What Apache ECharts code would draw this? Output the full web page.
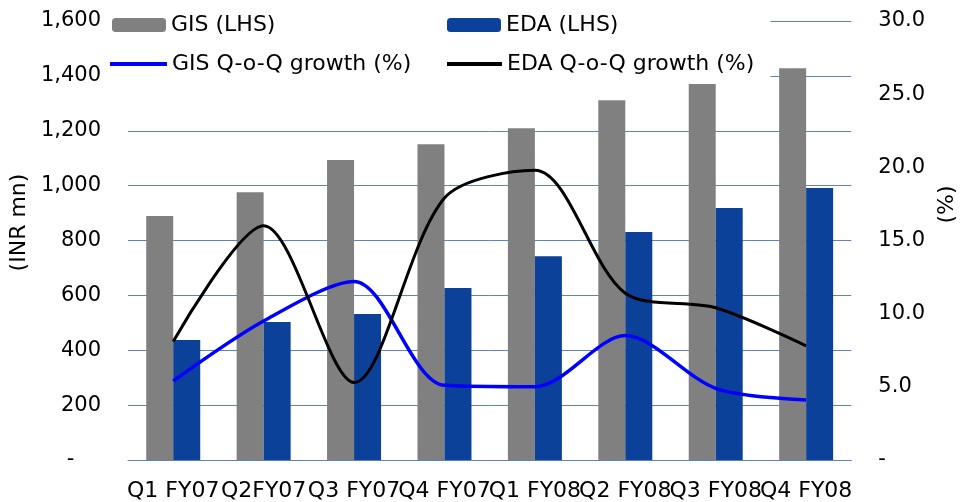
<!DOCTYPE html>
<html>
<head>
<meta charset="utf-8">
<script src="https://cdn.jsdelivr.net/npm/echarts@6/dist/echarts.min.js"></script>
<style>html,body{margin:0;padding:0;background:#fff;}#c{width:966px;height:502px;}</style>
</head>
<body>
<div id="c"></div>
<script>
const categories = ['Q1 FY07', 'Q2FY07', 'Q3 FY07', 'Q4 FY07', 'Q1 FY08', 'Q2 FY08', 'Q3 FY08', 'Q4 FY08'];
const gisRevenue = [889, 976, 1093, 1151, 1209, 1311, 1370, 1428];
const edaRevenue = [437, 503, 532, 627, 743, 831, 918, 991];
const gisGrowth = [5.4, 9.5, 12.2, 5.1, 5.0, 8.5, 4.9, 4.1];
const edaGrowth = [8.1, 16.0, 5.3, 17.9, 19.8, 11.4, 10.4, 7.8];
const leftTicks = { min: 0, max: 1600, interval: 200 };
const rightTicks = { min: 0, max: 30, interval: 5 };

const FONT = 'DejaVu Sans';
const GRID_COLOR = '#5B83C6';
const chart = echarts.init(document.getElementById('c'), null, { renderer: 'canvas' });

const legendBase = {
  orient: 'horizontal',
  selectedMode: false,
  itemGap: 0,
  itemWidth: 54,
  itemHeight: 14,
  textStyle: { fontFamily: FONT, fontSize: 22, color: '#000' }
};

chart.setOption({
  animation: false,
  backgroundColor: '#fff',
  grid: { left: 128, right: 110, top: 21, bottom: 42, containLabel: false },
  legend: [
    Object.assign({}, legendBase, { data: ['GIS (LHS)'], left: 108, top: 5, padding: [9, 495, 48, 4], backgroundColor: '#fff' }),
    Object.assign({}, legendBase, { data: ['EDA (LHS)'], left: 447, top: 14, padding: 0 }),
    Object.assign({}, legendBase, { data: [{ name: 'GIS Q-o-Q growth (%)', icon: 'rect' }], left: 110, top: 53, padding: 0, itemWidth: 57, itemHeight: 4 }),
    Object.assign({}, legendBase, { data: [{ name: 'EDA Q-o-Q growth (%)', icon: 'rect' }], left: 447, top: 53, padding: 0, itemWidth: 55, itemHeight: 4 })
  ],
  xAxis: {
    type: 'category',
    data: categories,
    boundaryGap: true,
    axisLine: { show: true, lineStyle: { color: GRID_COLOR, width: 1 } },
    axisTick: { show: false },
    axisLabel: { interval: 0, margin: 20, fontFamily: FONT, fontSize: 22, color: '#000' },
    splitLine: { show: false }
  },
  yAxis: [
    {
      type: 'value',
      min: leftTicks.min, max: leftTicks.max, interval: leftTicks.interval,
      name: '(INR mn)',
      nameLocation: 'middle',
      nameRotate: 90,
      nameGap: 86,
      nameTextStyle: { fontFamily: FONT, fontSize: 22, color: '#000', padding: [0, 0, 0, 36] },
      axisLine: { show: false },
      axisTick: { show: false },
      axisLabel: {
        margin: 27, fontFamily: FONT, fontSize: 21, color: '#000',
        formatter: v => v === 0 ? '-    ' : v.toLocaleString('en-US')
      },
      splitLine: { show: true, lineStyle: { color: GRID_COLOR, width: 1 } }
    },
    {
      type: 'value',
      min: rightTicks.min, max: rightTicks.max, interval: rightTicks.interval,
      name: '(%)',
      nameLocation: 'middle',
      nameRotate: 90,
      nameGap: 78,
      nameTextStyle: { fontFamily: FONT, fontSize: 22, color: '#000', padding: [0, 0, 0, 72] },
      axisLine: { show: false },
      axisTick: { show: false },
      axisLabel: {
        margin: 27, fontFamily: FONT, fontSize: 21, color: '#000',
        formatter: v => v === 0 ? '-' : v.toFixed(1)
      },
      splitLine: { show: false }
    }
  ],
  series: [
    {
      name: 'GIS (LHS)', type: 'bar', yAxisIndex: 0, data: gisRevenue,
      barWidth: 27, barGap: '0%',
      itemStyle: { color: '#808080' }
    },
    {
      name: 'EDA (LHS)', type: 'bar', yAxisIndex: 0, data: edaRevenue,
      barWidth: 27, barGap: '0%',
      itemStyle: { color: '#0C4199' }
    },
    {
      name: 'GIS Q-o-Q growth (%)', type: 'line', yAxisIndex: 1, data: gisGrowth,
      smooth: 0.3, symbol: 'none', showSymbol: false,
      lineStyle: { color: '#0000FF', width: 3.5 },
      itemStyle: { color: '#0000FF' }
    },
    {
      name: 'EDA Q-o-Q growth (%)', type: 'line', yAxisIndex: 1, data: edaGrowth,
      smooth: 0.3, symbol: 'none', showSymbol: false,
      lineStyle: { color: '#000000', width: 3 },
      itemStyle: { color: '#000000' }
    }
  ]
});
</script>
</body>
</html>
